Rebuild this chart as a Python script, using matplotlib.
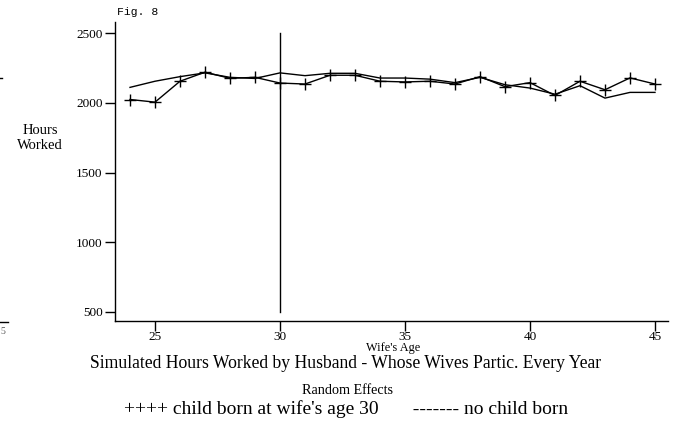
import matplotlib
matplotlib.use("Agg")
import matplotlib.pyplot as plt
from matplotlib.lines import Line2D

ages = list(range(24, 46))
child_born = [2024, 2005, 2155, 2220, 2176, 2183, 2142, 2135, 2198, 2198, 2155,
              2150, 2155, 2135, 2188, 2116, 2145, 2053, 2155, 2094, 2179, 2135]
no_child = [2111, 2155, 2188, 2215, 2183, 2175, 2215, 2195, 2212, 2212, 2178,
            2178, 2170, 2145, 2183, 2130, 2106, 2062, 2123, 2034, 2075, 2075]
yticks = [500, 1000, 1500, 2000, 2500]
xticks = [25, 30, 35, 40, 45]
birth_age = 30

serif = "Liberation Serif"

fig = plt.figure(figsize=(6.83, 4.25), dpi=100)
W, H = 683, 425
ax = fig.add_axes([115 / W, 1 - 321 / H, (668 - 115) / W, (321 - 22) / H])

ax.plot(ages, no_child, color="black", lw=1.0)
ax.plot(ages, child_born, color="black", lw=1.0, marker="+", markersize=9,
        markeredgewidth=1.0)
ax.plot([birth_age, birth_age], [yticks[0], yticks[-1]], color="black", lw=1.0)

ax.set_xlim(23.4, 45.52)
ax.set_ylim(435, 2580)
ax.set_xticks(xticks)
ax.set_yticks(yticks)
ax.set_xticklabels([str(t) for t in xticks], fontfamily=serif, fontsize=9.5)
ax.set_yticklabels([str(t) for t in yticks], fontfamily=serif, fontsize=9.5)
ax.tick_params(axis="x", direction="out", length=7, width=1.0, pad=0.5, colors="black")
ax.tick_params(axis="y", direction="out", length=7, width=1.0, pad=2, colors="black")
for s in ["top", "right"]:
    ax.spines[s].set_visible(False)
for s in ["left", "bottom"]:
    ax.spines[s].set_linewidth(1.0)

# remnants of a neighbouring panel at the left edge
fig.add_artist(Line2D([0, 8 / W], [1 - 322 / H, 1 - 322 / H], color="black", lw=1.0))
fig.add_artist(Line2D([0, 2 / W], [1 - 78 / H, 1 - 78 / H], color="black", lw=1.0))
fig.text(0.5 / W, 1 - 331 / H, "5", family=serif, fontsize=7, ha="left", va="center",
         color="#555555")

fig.text(117 / W, 1 - 12 / H, "Fig. 8", family="Liberation Mono", fontsize=8.2,
         ha="left", va="center")
fig.text(40 / W, 1 - 138 / H, "Hours\nWorked", family=serif, fontsize=10.5,
         ha="center", va="center", linespacing=1.15)
fig.text(393 / W, 1 - 348 / H, "Wife's Age", family=serif, fontsize=8.8,
         ha="center", va="center")
fig.text(346 / W, 1 - 364 / H,
         "Simulated Hours Worked by Husband - Whose Wives Partic. Every Year",
         family=serif, fontsize=12.7, ha="center", va="center")
fig.text(347 / W, 1 - 391 / H, "Random Effects", family=serif, fontsize=10.2,
         ha="center", va="center")
fig.text(346 / W, 1 - 409 / H,
         "++++ child born at wife's age 30       ------- no child born",
         family=serif, fontsize=14, ha="center", va="center")

fig.savefig("out.png", dpi=100)
